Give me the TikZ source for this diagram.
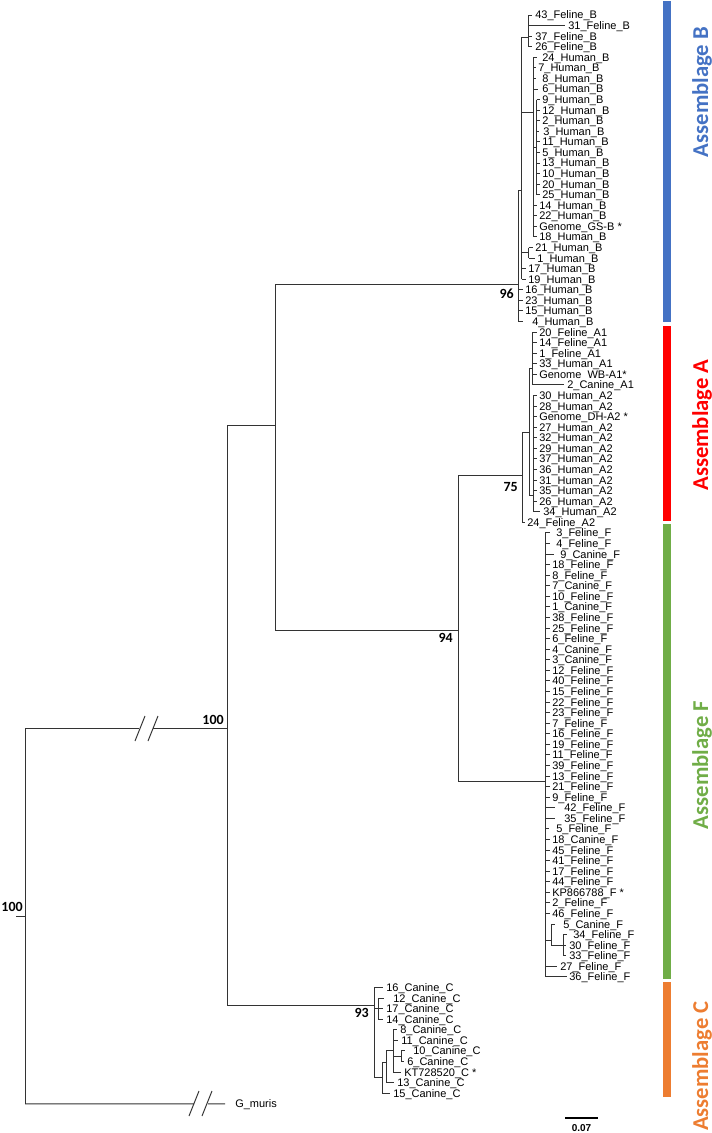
\documentclass[tikz,border=0pt]{standalone}
\usepackage{fontspec}
\setmainfont{Liberation Sans}
\newfontfamily\carl{Carlito}
\definecolor{asB}{HTML}{4472C4}
\definecolor{asA}{HTML}{FF0000}
\definecolor{asF}{HTML}{70AD47}
\definecolor{asC}{HTML}{ED7D31}
\begin{document}
\begin{tikzpicture}[x=0.75pt,y=-0.75pt,
  br/.style={draw=black!80,line width=0.75pt},
  leaf/.style={anchor=west,inner ysep=0pt,text height=5.9pt,text depth=0pt,font=\fontsize{8.25}{9}\selectfont},
  boot/.style={anchor=base east,inner sep=0pt,font=\carl\bfseries\fontsize{10.5}{12}\selectfont},
  asm/.style={rotate=90,inner sep=0pt,font=\carl\bfseries\fontsize{17}{20}\selectfont}]
\useasboundingbox (0,0) rectangle (712,1133);
% ---------- leaves ----------
\foreach \i/\bx/\lx/\txt in {
0/532/535/43\_Feline\_B, 1/565/568/31\_Feline\_B, 2/532/535/37\_Feline\_B, 3/532/535/26\_Feline\_B,
4/537/542/24\_Human\_B, 5/535.5/538/7\_Human\_B, 6/536/542/8\_Human\_B, 7/538/542/6\_Human\_B,
8/539.5/542/9\_Human\_B, 9/539.5/542/12\_Human\_B, 10/539.5/542/2\_Human\_B, 11/538.5/543/3\_Human\_B,
12/539.5/542/11\_Human\_B, 13/539.5/542/5\_Human\_B, 14/539.5/542/13\_Human\_B, 15/539.5/542/10\_Human\_B,
16/539.5/542/20\_Human\_B, 17/539.5/542/25\_Human\_B, 18/536.5/539/14\_Human\_B, 19/536.5/539/22\_Human\_B,
20/536.5/539/Genome\_GS-B *, 21/536.5/539/18\_Human\_B, 22/532.5/535/21\_Human\_B, 23/534.5/537/1\_Human\_B,
24/525.5/528/17\_Human\_B, 25/525.5/528/19\_Human\_B, 26/522.5/525/16\_Human\_B, 27/522.5/525/23\_Human\_B,
28/522.5/525/15\_Human\_B, 29/523/532/4\_Human\_B,
30/536.5/539/20\_Feline\_A1, 31/536.5/539/14\_Feline\_A1, 32/536.5/539/1\_Feline\_A1, 33/536.5/539/33\_Human\_A1,
34/536.5/539/Genome~ WB-A1*, 35/563.5/567/2\_Canine\_A1, 36/536.5/539/30\_Human\_A2, 37/536.5/539/28\_Human\_A2,
38/536.5/539/Genome\_DH-A2 *, 39/536.5/539/27\_Human\_A2, 40/536.5/539/32\_Human\_A2, 41/536.5/539/29\_Human\_A2,
42/536.5/539/37\_Human\_A2, 43/536.5/539/36\_Human\_A2, 44/536.5/539/31\_Human\_A2, 45/536.5/539/35\_Human\_A2,
46/536.5/539/26\_Human\_A2, 47/540/543/34\_Human\_A2, 48/524.5/527/24\_Feline\_A2,
49/550/556/3\_Feline\_F, 50/550/556/4\_Feline\_F, 51/554/560/9\_Canine\_F, 52/549.5/552/18\_Feline\_F,
53/549.5/552/8\_Feline\_F, 54/549.5/552/7\_Canine\_F, 55/549.5/552/10\_Feline\_F, 56/549.5/552/1\_Canine\_F,
57/549.5/552/38\_Feline\_F, 58/549.5/552/25\_Feline\_F, 59/549.5/552/6\_Feline\_F, 60/549.5/552/4\_Canine\_F,
61/549.5/552/3\_Canine\_F, 62/549.5/552/12\_Feline\_F, 63/549.5/552/40\_Feline\_F, 64/549.5/552/15\_Feline\_F,
65/549.5/552/22\_Feline\_F, 66/549.5/552/23\_Feline\_F, 67/549.5/552/7\_Feline\_F, 68/549.5/552/16\_Feline\_F,
69/549.5/552/19\_Feline\_F, 70/549.5/552/11\_Feline\_F, 71/549.5/552/39\_Feline\_F, 72/549.5/552/13\_Feline\_F,
73/549.5/552/21\_Feline\_F, 74/549.5/552/9\_Feline\_F, 75/555/564/42\_Feline\_F, 76/555/564/35\_Feline\_F,
77/548.5/556/5\_Feline\_F, 78/549.5/552/18\_Canine\_F, 79/549.5/552/45\_Feline\_F, 80/549.5/552/41\_Feline\_F,
81/549.5/552/17\_Feline\_F, 82/549.5/552/44\_Feline\_F, 83/549.5/552/KP866788\_F *, 84/549.5/552/2\_Feline\_F,
85/549.5/552/46\_Feline\_F, 86/555/563/5\_Canine\_F, 87/567/573/34\_Feline\_F, 88/566/569/30\_Feline\_F,
89/566/569/33\_Feline\_F, 90/557/560/27\_Feline\_F, 91/567/569/36\_Feline\_F,
92/383/386/16\_Canine\_C, 93/384/393/12\_Canine\_C, 94/383/386/17\_Canine\_C, 95/383/386/14\_Canine\_C,
96/397/400/8\_Canine\_C, 97/398/401/11\_Canine\_C, 98/405/413/10\_Canine\_C, 99/404/407/6\_Canine\_C,
100/401/404/KT728520\_C *, 101/394/397/13\_Canine\_C, 102/390/393/15\_Canine\_C, 103/225/235/G\_muris}{
  \pgfmathsetmacro\gap{(\lx-\bx)*0.75}
  \node[leaf,inner xsep=\gap pt] (l\i) at (\bx,{15+10.571*\i}) {\txt};
}
% ---------- internal nodes ----------
\coordinate (Fg) at (528,37);
\coordinate (B1) at (521.5,190);
\coordinate (B3) at (533,112);
\coordinate (B4) at (536.5,147);
\coordinate (B21) at (528.5,252.8);
\coordinate (B0) at (518,284);
\coordinate (A1) at (532,368);
\coordinate (A2) at (533,495);
\coordinate (AA) at (529,432);
\coordinate (A) at (522,475);
\coordinate (F) at (545,781);
\coordinate (F5) at (551,940);
\coordinate (F6) at (563,945);
\coordinate (C0) at (374,1005);
\coordinate (C1) at (378,1008);
\coordinate (C2) at (382,1077);
\coordinate (C3) at (386,1062);
\coordinate (C4) at (393,1050);
\coordinate (C5) at (401,1056);
\coordinate (N275) at (275,425);
\coordinate (N458) at (458,630);
\coordinate (N227) at (227,728);
\coordinate (R) at (25,916);
% ---------- clade B ----------
\draw[br] (Fg |- l0.west) -- (Fg |- l3.west);
\draw[br] (B1 |- Fg) -- (B1 |- l25.west);
\draw[br] (B3 |- l4.west) -- (B3 |- l21.west);
\draw[br] (B4 |- l8.west) -- (B4 |- l17.west);
\draw[br] (B21 |- l22.west) -- (B21 |- l23.west);
\draw[br] (B0 |- B1) -- (B0 |- l29.west);
\draw[br] (B1 |- Fg) -- (Fg);
\draw[br] (B1 |- B3) -- (B3);
\draw[br] (B3 |- B4) -- (B4);
\draw[br] (B1 |- B21) -- (B21);
\draw[br] (B0 |- B1) -- (B1);
\foreach \i in {0,...,3} \draw[br] (Fg |- l\i.west) -- (l\i.west);
\foreach \i in {4,5,6,7,18,19,20,21} \draw[br] (B3 |- l\i.west) -- (l\i.west);
\foreach \i in {8,...,17} \draw[br] (B4 |- l\i.west) -- (l\i.west);
\foreach \i in {22,23} \draw[br] (B21 |- l\i.west) -- (l\i.west);
\foreach \i in {24,25} \draw[br] (B1 |- l\i.west) -- (l\i.west);
\foreach \i in {26,...,29} \draw[br] (B0 |- l\i.west) -- (l\i.west);
% ---------- clade A ----------
\draw[br] (A1 |- l30.west) -- (A1 |- l35.west);
\draw[br] (A2 |- l36.west) -- (A2 |- l47.west);
\draw[br] (AA |- A1) -- (AA |- A2);
\draw[br] (A |- AA) -- (A |- l48.west);
\draw[br] (AA |- A1) -- (A1);
\draw[br] (AA |- A2) -- (A2);
\draw[br] (A |- AA) -- (AA);
\foreach \i in {30,...,35} \draw[br] (A1 |- l\i.west) -- (l\i.west);
\foreach \i in {36,...,47} \draw[br] (A2 |- l\i.west) -- (l\i.west);
\draw[br] (A |- l48.west) -- (l48.west);
% ---------- clade F ----------
\draw[br] (F |- l49.west) -- (F |- l91.west);
\draw[br] (F5 |- l86.west) -- (F5 |- F6);
\draw[br] (F6 |- l87.west) -- (F6 |- l89.west);
\draw[br] (F |- F5) -- (F5);
\draw[br] (F5 |- F6) -- (F6);
\foreach \i in {49,...,85,90,91} \draw[br] (F |- l\i.west) -- (l\i.west);
\draw[br] (F5 |- l86.west) -- (l86.west);
\foreach \i in {87,88,89} \draw[br] (F6 |- l\i.west) -- (l\i.west);
% ---------- clade C ----------
\draw[br] (C0 |- l92.west) -- (C0 |- C2);
\draw[br] (C1 |- l93.west) -- (C1 |- l95.west);
\draw[br] (C2 |- C3) -- (C2 |- l102.west);
\draw[br] (C3 |- C4) -- (C3 |- l101.west);
\draw[br] (C4 |- l96.west) -- (C4 |- l100.west);
\draw[br] (C5 |- l98.west) -- (C5 |- l99.west);
\draw[br] (C0 |- C1) -- (C1);
\draw[br] (C0 |- C2) -- (C2);
\draw[br] (C2 |- C3) -- (C3);
\draw[br] (C3 |- C4) -- (C4);
\draw[br] (C4 |- C5) -- (C5);
\draw[br] (C0 |- l92.west) -- (l92.west);
\foreach \i in {93,94,95} \draw[br] (C1 |- l\i.west) -- (l\i.west);
\draw[br] (C2 |- l102.west) -- (l102.west);
\draw[br] (C3 |- l101.west) -- (l101.west);
\foreach \i in {96,97,100} \draw[br] (C4 |- l\i.west) -- (l\i.west);
\foreach \i in {98,99} \draw[br] (C5 |- l\i.west) -- (l\i.west);
% ---------- backbone ----------
\draw[br] (N275 |- B0) -- (N275 |- N458);
\draw[br] (N458 |- A) -- (N458 |- F);
\draw[br] (N227 |- N275) -- (N227 |- C0);
\draw[br] (R |- N227) -- (R |- l103.west);
\draw[br] (N275 |- B0) -- (B0);
\draw[br] (N275 |- N458) -- (N458);
\draw[br] (N458 |- A) -- (A);
\draw[br] (N458 |- F) -- (F);
\draw[br] (N227 |- N275) -- (N275);
\draw[br] (N227 |- C0) -- (C0);
\coordinate (bk1a) at (139,728);
\coordinate (bk1b) at (153,728);
\draw[br] (R |- N227) -- (bk1a);
\draw[br] (bk1b) -- (N227);
\draw[br] (135,741) -- (145,716);
\draw[br] (148,741) -- (158,716);
\coordinate (bk2a) at (194,1103.8);
\coordinate (bk2b) at (208,1103.8);
\draw[br] (R |- l103.west) -- (bk2a);
\draw[br] (bk2b) -- (l103.west);
\draw[br] (189,1116) -- (199,1091);
\draw[br] (202,1116) -- (212,1091);
\coordinate (Rt) at (16,916);
\draw[br] (Rt) -- (R);
% ---------- support values ----------
\node[boot] (s1) at (23,911.5) {100};
\node[boot] (s2) at (224,724) {100};
\node[boot] (s3) at (514,298.5) {96};
\node[boot] (s4) at (518,491.5) {75};
\node[boot] (s5) at (453,642.5) {94};
\node[boot] (s6) at (369,1017.5) {93};
% ---------- scale bar ----------
\coordinate (sb1) at (565,1118);
\coordinate (sb2) at (598,1118);
\draw[black,line width=0.9pt] (sb1) -- (sb2);
\node[inner sep=0pt,anchor=base,font=\bfseries\fontsize{7.5}{9}\selectfont] (sbl) at (581.5,1131.5) {0.07};
% ---------- assemblage bars ----------
\fill[asB] (663,1) rectangle (671,322);
\fill[asA] (663,326) rectangle (671,521);
\fill[asF] (663,524) rectangle (671,979);
\fill[asC] (663,982) rectangle (671,1097);
\node[asm,text=asB] (tB) at (702,92) {Assemblage B};
\node[asm,text=asA] (tA) at (702,425) {Assemblage A};
\node[asm,text=asF] (tF) at (702,765) {Assemblage F};
\node[asm,text=asC] (tC) at (702,1066) {Assemblage C};
\end{tikzpicture}
\end{document}
